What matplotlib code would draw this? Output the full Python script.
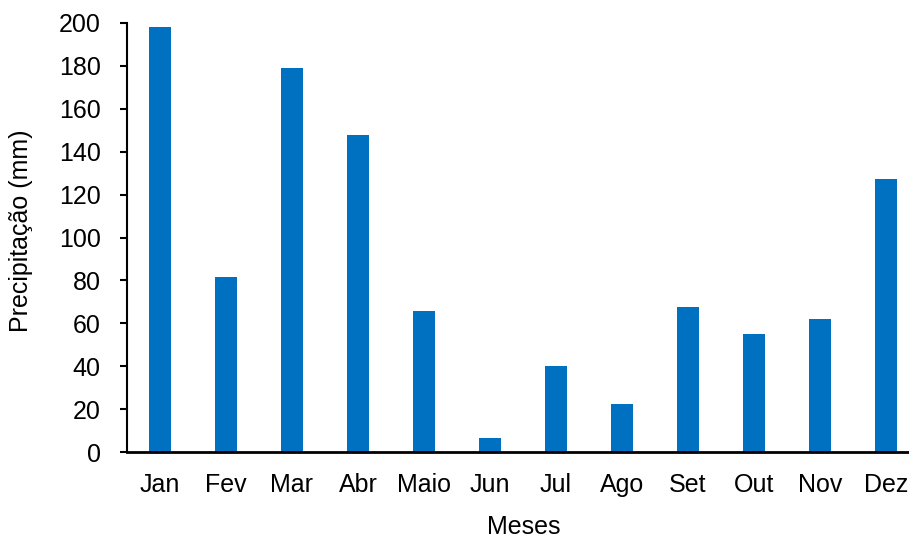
import numpy as np
import matplotlib.pyplot as plt

plt.rcParams['font.family'] = ['Liberation Sans', 'DejaVu Sans']

meses = ['Jan', 'Fev', 'Mar', 'Abr', 'Maio', 'Jun', 'Jul', 'Ago', 'Set', 'Out', 'Nov', 'Dez']
precipitacao = [198.0, 81.5, 179.0, 148.0, 65.8, 6.5, 40.3, 22.3, 67.4, 55.2, 62.2, 127.2]
yticks = [0, 20, 40, 60, 80, 100, 120, 140, 160, 180, 200]

fig = plt.figure(figsize=(9.09, 5.4), dpi=100)
ax = fig.add_axes([127/909, (540-452)/540, 792/909, 429/540])

x = np.arange(len(meses))
ax.bar(x, precipitacao, width=0.32, color='#0070C0')

ax.set_xlim(-0.5, len(meses) - 0.5)
ax.set_ylim(0, 200)
ax.set_yticks(yticks)
ax.set_xticks(x)
ax.set_xticklabels(meses)
ax.tick_params(axis='x', length=0, pad=15, labelsize=18)
ax.tick_params(axis='y', length=5, width=1.5, pad=14, labelsize=18)

for s in ['top', 'right']:
    ax.spines[s].set_visible(False)
ax.spines['left'].set_linewidth(1.5)
ax.spines['bottom'].set_linewidth(2)

ax.set_ylabel('Precipitação (mm)', fontsize=18, va='center')
ax.yaxis.set_label_coords(-0.134, 0.515)
ax.set_xlabel('Meses', fontsize=18, va='center')
ax.xaxis.set_label_coords(0.501, -0.175)

fig.savefig('out.png', dpi=100)
